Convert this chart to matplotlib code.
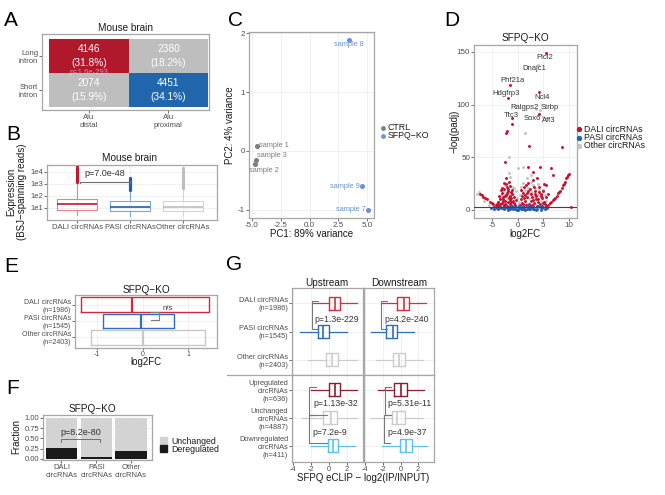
import matplotlib

matplotlib.use("Agg")

import matplotlib.pyplot as plt  # noqa: E402
from matplotlib.patches import Rectangle  # noqa: E402

plt.rcParams["font.family"] = ["Liberation Sans", "DejaVu Sans"]

W, H = 665, 495
BORDER, TICK, GRID = "#A6A6A6", "#4D4D4D", "#EBEBEB"
RED, BLUE, TGRAY = "#B2182B", "#2166AC", "#BEBEBE"

# ---- panel A: Alu position x intron length
A_ROWS = ["Long\nintron", "Short\nintron"]
A_COLS = ["Alu\ndistal", "Alu\nproximal"]
A_COUNTS = [[4146, 2380], [2074, 4451]]
A_PCT = [[31.8, 18.2], [15.9, 34.1]]

# ---- panel B: expression boxplots (log scale)
B_GROUPS = ["DALI circRNAs", "PASI circRNAs", "Other circRNAs"]
B_Q1 = [7, 6, 6]
B_MED = [20, 11, 12]
B_Q3 = [60, 35, 40]
B_LO = [2.5, 2.2, 2.2]
B_HI = [1400, 300, 450]
B_FLIERS = [
    [1500, 1800, 2200, 2700, 3300, 4000, 5000, 6000, 7500, 9000, 11000, 14000, 18000, 23000, 30000],
    [320, 380, 450, 550, 650, 800, 950, 1150, 1400, 1700, 2000, 2500, 3200],
    [480, 600, 750, 950, 1200, 1500, 1900, 2400, 3000, 4000, 5500, 7500, 10000, 14000, 20000],
]

# ---- panel C: PCA
C_SAMPLES = ["sample 1", "sample 2", "sample 3", "sample 7", "sample 8", "sample 9"]
C_PC1 = [-4.55, -4.7, -4.65, 5.1, 3.45, 4.6]
C_PC2 = [0.09, -0.23, -0.15, -1.0, 1.88, -0.6]
C_COND = ["CTRL", "CTRL", "CTRL", "SFPQ−KO", "SFPQ−KO", "SFPQ−KO"]

# ---- panel D: volcano (log2FC, -log padj)
D_DALI = [
    (5.5, 149), (-1.5, 119), (-1.9, 106), (4.1, 112), (4.1, 91), (-1.0, 87), (-1.0, 82),
    (-2.3, 73), (-2.0, 75), (2.2, 61), (8.6, 60), (-2.5, 46), (2.1, 41), (4.3, 41),
    (6.5, 39.5), (3.0, 36), (6.9, 33), (3.8, 30), (5.2, 25), (5.6, 24),
    (5.6, 3.8), (6.0, 4.7), (6.3, 6.3), (6.6, 7.9), (6.9, 9.5), (7.3, 11.1), (7.6, 13.3),
    (7.9, 15.8), (8.2, 18.3), (8.6, 20.6), (8.9, 23.7), (9.2, 26.9), (9.5, 30), (9.9, 33.2),
    (10.5, 3.2), (7.1, 10.3), (8.0, 17), (9.0, 25), (9.7, 31.5), (10.1, 34),
    (-7.3, 15.1), (-6.7, 12.6), (-6.0, 10.1), (-5.4, 7.9), (-4.7, 5.7), (-4.1, 4.1),
    (-3.4, 2.5), (-7.0, 14), (-6.3, 11.2), (-5.0, 6.8),
    (-2.0, 22), (-2.6, 20), (-1.8, 18), (-3.0, 16), (-2.2, 14), (-1.5, 13), (-2.8, 12),
    (-3.5, 10), (-1.2, 11), (-2.4, 9), (-1.9, 8), (-3.1, 7), (-4.0, 6), (-2.7, 5), (-1.4, 6),
    (-0.8, 9), (-3.6, 4), (-2.1, 4), (-1.0, 4), (-4.5, 3), (-0.5, 5), (-1.7, 27), (-2.3, 30),
    (-1.3, 17), (-3.3, 19), (-0.6, 12), (-2.5, 6), (-1.6, 3), (-3.9, 8), (-2.9, 10),
    (-1.1, 15), (-2.2, 25), (-0.9, 2.5), (-2.6, 3.5), (-1.5, 9.5),
    (-3.7, 13), (-3.4, 6), (-2.9, 8.5), (-2.0, 16), (-1.7, 11), (-1.3, 8), (-0.7, 7),
    (-2.4, 13), (-3.0, 21), (-1.9, 19.5), (-1.4, 23), (-2.7, 26), (-0.4, 9.5), (-1.1, 19),
    (-4.3, 5), (-3.8, 3), (-2.3, 2.5), (-1.2, 2),
    (1.2, 22), (2.5, 20), (3.5, 18), (1.8, 16), (4.5, 15), (0.8, 13), (2.9, 12), (4.0, 10),
    (1.5, 9), (3.3, 7), (5.2, 8), (2.2, 6), (0.5, 5), (4.8, 4), (1.0, 3), (3.8, 4), (5.6, 12),
    (4.2, 22), (2.0, 26), (3.0, 28), (1.3, 11), (2.7, 15), (3.6, 13), (0.9, 7), (4.4, 6),
    (2.4, 3.5), (5.0, 18), (1.6, 5), (3.1, 9.5), (4.7, 11),
    (1.0, 16), (1.9, 12.5), (2.6, 9), (3.4, 15.5), (4.1, 17), (0.7, 10), (1.4, 14), (2.9, 5),
    (3.9, 7.5), (4.6, 13), (5.4, 5.5), (2.1, 18.5), (3.2, 22), (0.6, 19), (1.7, 24),
    (4.9, 7), (2.5, 2.5), (3.6, 10.5), (5.9, 15), (1.1, 6),
]
D_PASI = [
    (-4.5, 1), (-3.8, 0.8), (-3.2, 1.5), (-2.6, 0.6), (-2.0, 1.8), (-1.5, 0.9), (-1.0, 2.2),
    (-0.5, 1.2), (0.0, 0.4), (0.3, 1.6), (0.8, 0.7), (1.3, 2.0), (1.8, 1.0), (2.3, 0.5),
    (2.8, 2.5), (3.3, 1.3), (3.8, 0.8), (4.3, 2.8), (4.8, 1.5), (5.3, 0.9), (-2.3, 3.2),
    (1.0, 3.5), (2.0, 4.5), (-1.2, 4.0), (3.0, 3.8), (0.5, 2.8), (-0.2, 0.2), (1.5, 0.3),
    (-3.5, 2.6), (4.0, 4.2), (-5.2, 1.8), (5.8, 2.2), (-0.8, 0.5), (2.5, 1.4), (3.6, 0.3),
    (-4.0, 2.0), (-2.8, 2.2), (-1.8, 0.3), (-0.3, 2.5), (0.6, 1.0), (1.1, 0.5), (2.1, 2.0),
    (3.0, 0.6), (4.5, 0.4), (5.0, 3.2), (-1.4, 3.0), (0.2, 3.8),
]
D_OTHER = [
    (3.9, 138), (4.3, 95), (4.9, 88), (3.6, 96), (1.4, 72.7), (-1.6, 50), (0.1, 39.8),
    (1.1, 41), (-7.6, 17.4), (4.0, 25), (2.6, 33), (1.9, 30), (3.1, 24), (1.4, 19), (2.8, 17),
    (3.9, 14), (0.9, 18), (2.3, 11), (4.6, 9), (1.7, 6), (3.6, 3), (0.3, 8), (5.0, 19),
    (-1.6, 35), (-1.4, 31), (-1.9, 26), (-2.4, 24), (-1.1, 22), (-3.2, 14), (-1.6, 16),
    (-0.9, 15), (-2.0, 11), (-3.8, 8), (-1.1, 7), (-2.9, 3), (-0.3, 3), (-4.2, 2), (-1.5, 2),
    (-5.5, 5), (-6.5, 9), (2.0, 21), (3.4, 21), (1.0, 26), (-2.8, 18), (0.5, 14), (-0.4, 18),
    (5.3, 14), (6.1, 6), (-8.0, 15.5),
    (-3.5, 11.5), (-2.6, 15), (-1.8, 13), (-1.2, 4.5), (-0.6, 21), (-2.1, 6.5), (-3.3, 4.5),
    (-0.2, 11), (0.7, 22), (1.5, 12), (2.4, 16), (3.2, 12), (4.2, 19), (2.7, 27), (3.5, 6),
    (4.8, 12.5), (1.2, 4), (0.2, 5.5), (-4.8, 3.5), (5.6, 9),
]
D_GENES = ["Plcl2", "Dnajc1", "Phf21a", "Hdgfrp3", "Ncl4", "Ralgps2", "Strbp", "Ttc3", "Sox6", "Aff3"]
D_GENE_X = [5.25, 3.3, -1.0, -2.3, 4.7, 1.4, 6.2, -1.2, 2.9, 6.0]
D_GENE_Y = [145, 134, 123, 111, 107, 97, 97, 90, 87, 85]

# ---- panel E: log2FC boxes (box only)
E_GROUPS = ["DALI circRNAs\n(n=1986)", "PASI circRNAs\n(n=1545)", "Other circRNAs\n(n=2403)"]
E_Q1 = [-1.35, -0.88, -1.13]
E_MED = [-0.24, -0.03, 0.0]
E_Q3 = [1.45, 0.69, 1.37]

# ---- panel F: fraction deregulated
F_GROUPS = ["DALI\ncircRNAs", "PASI\ncircRNAs", "Other\ncircRNAs"]
F_DEREG = [0.26, 0.04, 0.19]

# ---- panel G: eCLIP enrichment, (whislo, q1, med, q3, whishi)
G_TOP = ["DALI circRNAs\n(n=1986)", "PASI circRNAs\n(n=1545)", "Other circRNAs\n(n=2403)"]
G_BOT = ["Upregulated\ncircRNAs\n(n=636)", "Unchanged\ncircRNAs\n(n=4887)",
         "Downregulated\ncircRNAs\n(n=411)"]
G_UP_TOP = [(-1.8, 0.0, 0.7, 1.2, 3.1), (-3.2, -1.2, -0.65, 0.0, 2.0), (-2.4, -0.3, 0.35, 1.0, 3.1)]
G_DN_TOP = [(-2.2, -0.35, 0.35, 1.0, 2.9), (-3.3, -1.6, -0.9, -0.35, 1.5), (-2.8, -0.8, -0.2, 0.55, 2.6)]
G_UP_BOT = [(-2.0, 0.0, 0.7, 1.2, 3.1), (-3.0, -0.65, 0.25, 0.9, 3.1), (-2.0, -0.1, 0.45, 1.0, 2.9)]
G_DN_BOT = [(-2.6, -0.7, 0.1, 0.7, 2.7), (-3.3, -1.0, -0.45, 0.45, 2.6), (-2.1, -0.1, 0.65, 1.25, 3.0)]

fig = plt.figure(figsize=(W / 100, H / 100), dpi=100)


def add_ax(x0, y0, x1, y1):
    """Axes from pixel box (top-left origin)."""
    return fig.add_axes([x0 / W, 1 - y1 / H, (x1 - x0) / W, (y1 - y0) / H])


def frame(ax, grid=True, size=5.5):
    for s in ax.spines.values():
        s.set_color(BORDER)
        s.set_linewidth(0.9)
    ax.tick_params(length=2, width=0.5, colors="#333333", labelcolor=TICK, labelsize=size, pad=0.8)
    if grid:
        ax.grid(True, color=GRID, lw=0.5)
        ax.set_axisbelow(True)


# ---------------- A
ax = add_ax(42, 34, 209, 110)
colors = [[RED, TGRAY], [TGRAY, BLUE]]
for r in range(2):
    for c in range(2):
        y0 = 1 - r
        ax.add_patch(Rectangle((c, y0), 1, 1, facecolor=colors[r][c], edgecolor="none"))
        ax.text(c + 0.5, y0 + 0.5, f"{A_COUNTS[r][c]}\n({A_PCT[r][c]}%)", ha="center", va="center",
                color="white", fontsize=7.3, linespacing=1.5)
ax.text(0.5, 1.0, "p=1.6e-293", ha="center", va="center", color="white", alpha=0.55, fontsize=5.5)
ax.set_xlim(-0.09, 2.01)
ax.set_ylim(-0.09, 2.14)
ax.set_xticks([0.5, 1.5], A_COLS)
ax.set_yticks([1.5, 0.5], A_ROWS)
frame(ax, grid=False)

# ---------------- B
ax = add_ax(47, 165, 217, 220)
frame(ax)
B_LIGHT = ["#E8838D", "#77A6DD", "#D4D4D4"]
B_DARK = ["#C0182A", "#1F5FAF", "#BDBDBD"]
for i in range(3):
    st = dict(q1=B_Q1[i], med=B_MED[i], q3=B_Q3[i], whislo=B_LO[i], whishi=B_HI[i], fliers=B_FLIERS[i])
    ax.bxp([st], positions=[i + 1], widths=0.75, showcaps=False,
           boxprops=dict(color=B_LIGHT[i], lw=0.8), whiskerprops=dict(color=B_LIGHT[i], lw=0.8),
           medianprops=dict(color=B_DARK[i], lw=1.2),
           flierprops=dict(marker="o", markersize=1.3, markerfacecolor=B_DARK[i],
                           markeredgecolor=B_DARK[i]))
ax.set_yscale("log")
ax.set_ylim(1, 10 ** 4.58)
ax.set_xlim(0.43, 3.64)
ax.set_yticks([10, 100, 1000, 10000], ["1e1", "1e2", "1e3", "1e4"])
ax.minorticks_off()
ax.set_xticks([1, 2, 3], B_GROUPS)
ax.plot([1.05, 1.05, 2.0, 2.0], [1200, 1500, 1500, 1200], color="#707070", lw=0.8)
ax.text(1.52, 8000, "p=7.0e-48", ha="center", va="center", fontsize=6.5, color="#333333")

# ---------------- C
ax = add_ax(249, 32, 374, 218)
frame(ax, size=5.8)
C_COL = {"CTRL": "#7F7F7F", "SFPQ−KO": "#6A93D8"}
for x, y, cond in zip(C_PC1, C_PC2, C_COND):
    ax.scatter(x, y, s=7, color=C_COL[cond], zorder=3)
label_off = {"sample 1": (0.15, 0.0, "left"), "sample 2": (-0.55, -0.1, "left"),
             "sample 3": (0.05, 0.07, "left"), "sample 7": (-0.2, 0.0, "right"),
             "sample 8": (0.0, -0.08, "center"), "sample 9": (-0.2, 0.0, "right")}
for name, x, y, cond in zip(C_SAMPLES, C_PC1, C_PC2, C_COND):
    dx, dy, ha = label_off[name]
    ax.text(x + dx, y + dy, name, ha=ha, va="center", fontsize=5.3, color=C_COL[cond])
ax.set_xlim(-5.26, 5.6)
ax.set_ylim(-1.14, 2.02)
ax.set_xticks([-5, -2.5, 0, 2.5, 5], ["-5.0", "-2.5", "0.0", "2.5", "5.0"])
ax.set_yticks([-1, 0, 1, 2], ["-1", "0", "1", "2"])

# ---------------- D
ax = add_ax(474, 45, 577, 218)
frame(ax, size=5.8)
D_COL = {"DALI": "#C8102E", "PASI": "#1F63B5", "Other": "#C4C4C4"}
for pts, key in [(D_OTHER, "Other"), (D_DALI, "DALI"), (D_PASI, "PASI")]:
    ax.scatter([p[0] for p in pts], [p[1] for p in pts], s=4.5, color=D_COL[key], lw=0, zorder=3)
ax.axhline(3, color="#444444", lw=0.8, zorder=4)
for g, x, y in zip(D_GENES, D_GENE_X, D_GENE_Y):
    ax.text(x, y, g, ha="center", va="center", fontsize=5.5, color="#333333", zorder=5)
ax.set_xlim(-8.5, 11.6)
ax.set_ylim(-7.6, 156.6)
ax.set_xticks([-5, 0, 5, 10], ["-5", "0", "5", "10"])
ax.set_yticks([0, 50, 100, 150])

# ---------------- E
ax = add_ax(75, 295, 217, 348)
frame(ax, size=5)
ax.tick_params(axis="x", length=1.5, pad=0.5)
E_COL = ["#D7263D", "#2F6FC0", "#C8C8C8"]
for i in range(3):
    st = dict(q1=E_Q1[i], med=E_MED[i], q3=E_Q3[i], whislo=E_Q1[i], whishi=E_Q3[i], fliers=[])
    ax.bxp([st], positions=[3 - i], widths=0.9, orientation="horizontal", showcaps=False,
           boxprops=dict(color=E_COL[i], lw=1.0), whiskerprops=dict(lw=0),
           medianprops=dict(color=E_COL[i], lw=1.6))
ax.set_xlim(-1.49, 1.63)
ax.set_ylim(0.36, 3.58)
ax.set_yticks([3, 2, 1], E_GROUPS)
ax.set_xticks([-1, 0, 1], ["-1", "0", "1"])
ax.plot([0.19, 0.36, 0.36, 0.19], [2.55, 2.55, 2.06, 2.06], color="#7F7F7F", lw=0.8)
ax.text(0.44, 2.78, "n/s", ha="left", va="center", fontsize=5.5, color="#333333")

# ---------------- F
ax = add_ax(43, 415, 152, 460)
frame(ax)
xs = [1, 2, 3]
ax.bar(xs, F_DEREG, width=0.9, color="#1A1A1A")
ax.bar(xs, [1 - d for d in F_DEREG], bottom=F_DEREG, width=0.9, color="#D3D3D3")
ax.set_xlim(0.47, 3.6)
ax.set_ylim(-0.03, 1.07)
ax.set_yticks([0, 0.25, 0.5, 0.75, 1.0], ["0.00", "0.25", "0.50", "0.75", "1.00"])
ax.set_xticks(xs, F_GROUPS)
ax.plot([1, 1, 2.1, 2.1], [0.42, 0.48, 0.48, 0.42], color="#707070", lw=0.7)
ax.text(1.55, 0.65, "p=8.2e-80", ha="center", va="center", fontsize=6.5, color="#333333")

# ---------------- G
G_COL_TOP = ["#D0313E", "#2E6DB4", "#CCCCCC"]
G_COL_BOT = ["#8B1E32", "#CCCCCC", "#5BC3EE"]
panels = [
    ((292, 288, 363, 375), G_UP_TOP, G_COL_TOP, G_TOP, False, (0.45, 3.55)),
    ((364, 288, 434, 375), G_DN_TOP, G_COL_TOP, None, False, (0.45, 3.55)),
    ((292, 375, 363, 462), G_UP_BOT, G_COL_BOT, G_BOT, True, (0.42, 3.52)),
    ((364, 375, 434, 462), G_DN_BOT, G_COL_BOT, None, True, (0.42, 3.52)),
]
g_axes = []
for box, stats, cols, labels, bottom, ylim in panels:
    ax = add_ax(*box)
    frame(ax, size=5.3)
    for i, (lo, q1, med, q3, hi) in enumerate(stats):
        st = dict(q1=q1, med=med, q3=q3, whislo=lo, whishi=hi, fliers=[])
        ax.bxp([st], positions=[3 - i], widths=0.48, orientation="horizontal", showcaps=False,
               boxprops=dict(color=cols[i], lw=1.0), whiskerprops=dict(color=cols[i], lw=0.9),
               medianprops=dict(color=cols[i], lw=1.2))
    ax.set_xlim(-4.15, 3.8)
    ax.set_ylim(*ylim)
    ax.set_xticks([-4, -2, 0, 2], ["-4", "-2", "0", "2"] if bottom else [])
    if labels:
        ax.set_yticks([3, 2, 1], labels)
    else:
        ax.set_yticks([3, 2, 1], [])
        ax.tick_params(axis="y", length=0)
    if not bottom:
        ax.tick_params(axis="x", length=0)
    g_axes.append(ax)


def g_bracket(ax, x, y1, y2, txt, tx, ty, arm=0.7):
    ax.plot([x + arm, x, x, x + arm], [y1 + 0.1, y1 + 0.1, y2 + 0.1, y2 + 0.1],
            color="#777777", lw=0.8, zorder=5)
    ax.text(tx, ty, txt, ha="center", va="center", fontsize=6.3, color="#333333", zorder=6)


g_bracket(g_axes[0], -1.9, 3, 2, "p=1.3e-229", 0.9, 2.43)
g_bracket(g_axes[1], -2.2, 3, 2, "p=4.2e-240", 0.7, 2.43)
g_bracket(g_axes[2], -2.2, 3, 2, "p=1.13e-32", 0.7, 2.5)
g_bracket(g_axes[2], -2.2, 2, 1, "p=7.2e-9", 0.1, 1.46, arm=2.0)
g_bracket(g_axes[3], -1.8, 3, 2, "p=5.31e-11", 1.0, 2.5)
g_bracket(g_axes[3], -1.9, 2, 1, "p=4.9e-37", 0.8, 1.46)

# ---------------- overlay: letters, titles, labels, legends
ov = fig.add_axes([0, 0, 1, 1])
ov.set_xlim(0, W)
ov.set_ylim(H, 0)
ov.axis("off")
ov.patch.set_alpha(0)

for letter, x, y in [("A", 4, 20), ("B", 6, 135), ("C", 228, 20), ("D", 444, 20),
                     ("E", 4, 266), ("F", 6, 388), ("G", 226, 265)]:
    ov.text(x, y, letter, fontsize=15, ha="left", va="center")

title_kw = dict(ha="center", va="center", fontsize=7.2, color="#1A1A1A")
ov.text(125, 28, "Mouse brain", **title_kw)
ov.text(130, 158, "Mouse brain", **title_kw)
ov.text(525, 38, "SFPQ−KO", **title_kw)
ov.text(146, 290, "SFPQ−KO", **title_kw)
ov.text(92, 409, "SFPQ−KO", **title_kw)
ov.text(327, 283, "Upstream", **title_kw)
ov.text(399, 283, "Downstream", **title_kw)

lab_kw = dict(ha="center", va="center", fontsize=7, color="#1A1A1A")
ov.text(17, 192, "Expression\n(BSJ−spanning reads)", rotation=90, linespacing=1.1, **lab_kw)
ov.text(230, 125, "PC2: 4% variance", rotation=90, **lab_kw)
ov.text(312, 234, "PC1: 89% variance", **lab_kw)
ov.text(454, 131, "−log(padj)", rotation=90, **lab_kw)
ov.text(525, 234, "log2FC", **lab_kw)
ov.text(146, 362, "log2FC", **lab_kw)
ov.text(16, 437, "Fraction", rotation=90, **lab_kw)
ov.text(363, 478, "SFPQ eCLIP − log2(IP/INPUT)", **lab_kw)

# separator between G row groups
ov.plot([227, 292], [375, 375], color=BORDER, lw=0.9)

# legends
leg_kw = dict(ha="left", va="center", fontsize=6.3, color="#1A1A1A")
for i, (name, col) in enumerate(C_COL.items()):
    ov.scatter(383, 128 + i * 8, s=6, color=col)
    ov.text(388, 128 + i * 8, name, **leg_kw)
for i, (name, key) in enumerate([("DALI circRNAs", "DALI"), ("PASI circRNAs", "PASI"),
                                 ("Other circRNAs", "Other")]):
    ov.scatter(579, 129 + i * 8.5, s=8, color=D_COL[key])
    ov.text(584, 129 + i * 8.5, name, **leg_kw)
for i, (name, col) in enumerate([("Unchanged", "#D3D3D3"), ("Deregulated", "#1A1A1A")]):
    ov.add_patch(Rectangle((160, 437 + i * 8), 7, 7, color=col))
    ov.text(171, 441 + i * 8, name, **leg_kw)

fig.savefig("out.png", dpi=100)
